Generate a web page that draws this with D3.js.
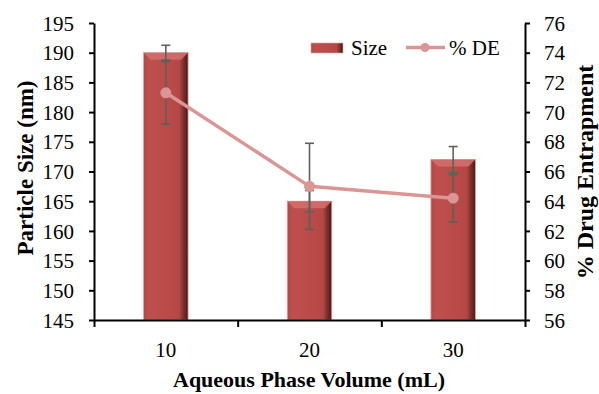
<!DOCTYPE html>
<html>
<head>
<meta charset="utf-8">
<script src="https://cdn.jsdelivr.net/npm/d3@7"></script>
<style>
body{margin:0;background:#fff}
text{font-family:"Liberation Serif","Times New Roman",serif}
</style>
</head>
<body>
<div id="graph1"></div>
<script>
var volumes = ['10', '20', '30']
var sizes = [190, 165, 172]
var sizeErr = [1.25, 1.8, 2.2]
var de = [71.3, 65.0, 64.2]
var deErr = [2.1, 2.9, 1.6]
var sizeTicks = [145,150,155,160,165,170,175,180,185,190,195]
var deTicks = [56,58,60,62,64,66,68,70,72,74,76]

function draw_chart(){
    var left = 94, right = 525, top = 23, bottom = 320

    var xscale = d3.scaleBand()
      .domain(volumes)
      .range([left, right])
      .paddingInner(0.69)
      .paddingOuter(0.345)

    var yscale = d3.scaleLinear()
      .domain([145, 195])
      .range([bottom, top])

    var y2scale = d3.scaleLinear()
      .domain([56, 76])
      .range([bottom, top])

    var svg = d3.select("#graph1").append("svg")
      .attr("width", 599)
      .attr("height", 394)

    var defs = svg.append("defs")
    var grad = defs.append("linearGradient").attr("id", "barg")
      .attr("x1", 0).attr("x2", 1).attr("y1", 0).attr("y2", 0)
    grad.append("stop").attr("offset", "0%").attr("stop-color", "#b44845")
    grad.append("stop").attr("offset", "12%").attr("stop-color", "#be4f4c")
    grad.append("stop").attr("offset", "80%").attr("stop-color", "#b54845")
    grad.append("stop").attr("offset", "90%").attr("stop-color", "#7a2e2c")
    grad.append("stop").attr("offset", "100%").attr("stop-color", "#4a1a19")

    var bw = xscale.bandwidth()

    // bars
    var bars = svg.selectAll(".bar")
      .data(sizes)
      .enter().append("g")
    bars.append("rect")
      .attr("x", function(d, i){ return xscale(volumes[i]) })
      .attr("y", function(d){ return yscale(d) })
      .attr("width", bw)
      .attr("height", function(d){ return bottom - yscale(d) })
      .attr("fill", "url(#barg)")
      .attr("stroke", "#d8a9a7")
      .attr("stroke-width", 0.8)
    // top bevel
    bars.append("path")
      .attr("d", function(d, i){
        var x0 = xscale(volumes[i]), y0 = yscale(d), b = 7
        return "M" + x0 + "," + y0 + "L" + (x0 + bw) + "," + y0 + "L" + (x0 + bw - b) + "," + (y0 + b) + "L" + (x0 + b) + "," + (y0 + b) + "Z"
      })
      .attr("fill", "#d06e6b")
      .attr("opacity", 0.9)

    // axes
    var ax = svg.append("g").attr("transform", "translate(0," + bottom + ")")
      .call(d3.axisBottom(d3.scaleLinear().domain([0, 3]).range([left, right])).tickValues([0,1,2,3]).tickFormat("").tickSize(7).tickSizeOuter(0))
    ax.select(".domain").attr("stroke-width", 2)
    ax.selectAll(".tick line").attr("stroke-width", 2)

    var ay = svg.append("g").attr("transform", "translate(" + left + ",0)")
      .call(d3.axisLeft(yscale).tickValues(sizeTicks).tickSize(5).tickSizeOuter(0))
    ay.select(".domain").attr("stroke-width", 2)
    ay.selectAll(".tick line").attr("stroke-width", 2)
    ay.selectAll(".tick text").attr("font-size", 21).attr("font-family", "Liberation Serif").attr("x", -20).attr("dy", "0.34em")

    var ay2 = svg.append("g").attr("transform", "translate(" + right + ",0)")
      .call(d3.axisRight(y2scale).tickValues(deTicks).tickSize(5).tickSizeOuter(0))
    ay2.select(".domain").attr("stroke-width", 2)
    ay2.selectAll(".tick line").attr("stroke-width", 2)
    ay2.selectAll(".tick text").attr("font-size", 21).attr("font-family", "Liberation Serif").attr("x", 19).attr("dy", "0.34em")

    svg.selectAll(".xlab")
      .data(volumes)
      .enter().append("text")
      .attr("x", function(d){ return xscale(d) + bw / 2 })
      .attr("y", 357)
      .attr("text-anchor", "middle")
      .attr("font-size", 21)
      .text(function(d){ return d })

    // error bars
    var errColor = "#5f5f5f"
    function errbar(cx, y1, y2){
      var g = svg.append("g").attr("stroke", errColor).attr("stroke-width", 1.6)
      g.append("line").attr("x1", cx).attr("x2", cx).attr("y1", y1).attr("y2", y2)
      g.append("line").attr("x1", cx - 4.5).attr("x2", cx + 4.5).attr("y1", y1).attr("y2", y1)
      g.append("line").attr("x1", cx - 4.5).attr("x2", cx + 4.5).attr("y1", y2).attr("y2", y2)
    }
    for (var i = 0; i < sizes.length; i++){
      var cx = xscale(volumes[i]) + bw / 2
      errbar(cx, yscale(sizes[i] + sizeErr[i]), yscale(sizes[i] - sizeErr[i]))
      errbar(cx, y2scale(de[i] + deErr[i]), y2scale(de[i] - deErr[i]))
    }

    // DE line
    var lineColor = "#d99694"
    var line = d3.line()
      .x(function(d, i){ return xscale(volumes[i]) + bw / 2 })
      .y(function(d){ return y2scale(d) })
    svg.append("path")
      .datum(de)
      .attr("d", line)
      .attr("fill", "none")
      .attr("stroke", lineColor)
      .attr("stroke-width", 3.5)
    svg.selectAll(".dot")
      .data(de)
      .enter().append("circle")
      .attr("cx", function(d, i){ return xscale(volumes[i]) + bw / 2 })
      .attr("cy", function(d){ return y2scale(d) })
      .attr("r", 5.5)
      .attr("fill", lineColor)

    // legend
    svg.append("rect").attr("x", 311).attr("y", 43).attr("width", 32).attr("height", 10)
      .attr("fill", "url(#barg)").attr("stroke", "#d8a9a7").attr("stroke-width", 0.6)
    svg.append("text").attr("x", 351).attr("y", 55).attr("font-size", 21).text("Size")
    svg.append("line").attr("x1", 406).attr("x2", 445).attr("y1", 47.5).attr("y2", 47.5)
      .attr("stroke", lineColor).attr("stroke-width", 3.5)
    svg.append("circle").attr("cx", 425).attr("cy", 47.5).attr("r", 4.5).attr("fill", lineColor)
    svg.append("text").attr("x", 449).attr("y", 55).attr("font-size", 21).text("% DE")

    // axis titles
    svg.append("text")
      .attr("transform", "translate(33,168) rotate(-90)")
      .attr("text-anchor", "middle")
      .attr("font-size", 23).attr("font-weight", "bold")
      .text("Particle Size (nm)")
    svg.append("text")
      .attr("transform", "translate(593,172) rotate(-90)")
      .attr("text-anchor", "middle")
      .attr("font-size", 24).attr("font-weight", "bold")
      .text("% Drug Entrapment")
    svg.append("text")
      .attr("x", 309)
      .attr("y", 387)
      .attr("text-anchor", "middle")
      .attr("font-size", 22).attr("font-weight", "bold")
      .text("Aqueous Phase Volume (mL)")
}

draw_chart()
</script>
</body>
</html>
